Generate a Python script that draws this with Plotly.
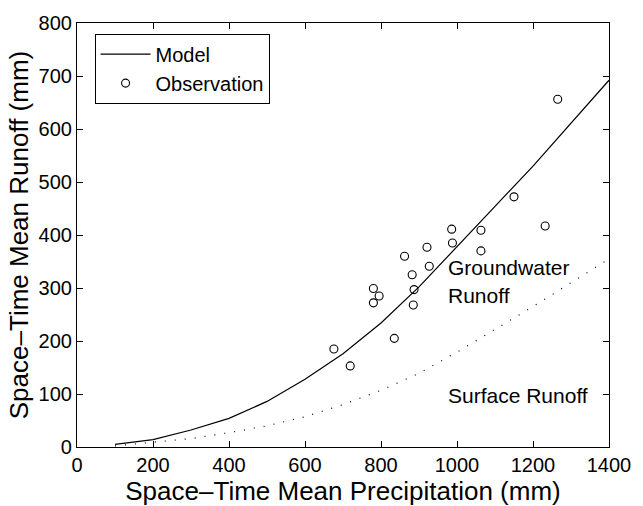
import plotly.graph_objects as go

# Model (total runoff) curve
model_x = [100, 200, 300, 400, 500, 600, 700, 800, 900, 1000, 1100, 1200, 1300, 1400]
model_y = [5, 14, 32, 54, 86, 128, 176, 234, 302, 377, 454, 530, 610, 692]

# Surface runoff curve (dotted)
surf_x = [100, 200, 300, 400, 500, 600, 700, 800, 900, 1000, 1100, 1200, 1300, 1400]
surf_y = [2, 9, 16, 27, 40, 57, 80, 107, 139, 179, 222, 265, 310, 355]

# Observations
obs_x = [676, 719, 835, 780, 795, 780, 885, 887, 882, 862, 927, 921, 988, 986,
         1063, 1063, 1150, 1232, 1265]
obs_y = [185, 153, 205, 299, 285, 272, 268, 297, 325, 360, 341, 377, 385, 411,
         409, 370, 472, 417, 656]

x_ticks = [0, 200, 400, 600, 800, 1000, 1200, 1400]
y_ticks = [0, 100, 200, 300, 400, 500, 600, 700, 800]

font_family = "Liberation Sans, Arial, Helvetica, sans-serif"

fig = go.Figure()
fig.add_trace(go.Scatter(x=model_x, y=model_y, mode="lines", name="Model",
                         line=dict(color="black", width=1.2)))
fig.add_trace(go.Scatter(x=obs_x, y=obs_y, mode="markers", name="Observation",
                         marker=dict(symbol="circle-open", size=8, color="black",
                                     line=dict(width=1.1, color="black"))))
fig.add_trace(go.Scatter(x=surf_x, y=surf_y, mode="lines", showlegend=False,
                         line=dict(color="black", width=1.2, dash="1px,9px")))

ann_font = dict(family=font_family, size=21, color="black")
fig.add_annotation(x=971, y=339, text="Groundwater", showarrow=False,
                   xanchor="left", yanchor="middle", font=ann_font)
fig.add_annotation(x=971, y=285, text="Runoff", showarrow=False,
                   xanchor="left", yanchor="middle", font=ann_font)
fig.add_annotation(x=971, y=98, text="Surface Runoff", showarrow=False,
                   xanchor="left", yanchor="middle", font=ann_font)

axis_common = dict(showline=True, linecolor="black", linewidth=1.2, mirror="allticks",
                   ticks="inside", ticklen=6, tickwidth=1, tickcolor="black",
                   showgrid=False, zeroline=False,
                   tickfont=dict(family=font_family, size=20, color="black"))

fig.update_xaxes(range=[0, 1400], tickvals=x_ticks,
                 title=dict(text="Space\u2013Time Mean Precipitation (mm)",
                            font=dict(family=font_family, size=26, color="black"),
                            standoff=0),
                 **axis_common)
fig.update_yaxes(range=[0, 800], tickvals=y_ticks,
                 title=dict(text="Space\u2013Time Mean Runoff (mm)",
                            font=dict(family=font_family, size=26, color="black"),
                            standoff=2),
                 **axis_common)

fig.update_layout(
    width=643, height=506,
    margin=dict(l=77, r=25, t=14, b=58),
    paper_bgcolor="white", plot_bgcolor="white",
    font=dict(family=font_family, color="black"),
    legend=dict(x=0.033, y=0.975, xanchor="left", yanchor="top",
                bgcolor="white", bordercolor="black", borderwidth=1,
                font=dict(family=font_family, size=20, color="black"),
                tracegroupgap=0, itemwidth=50),
    showlegend=True,
)

fig.write_html("out.html")
